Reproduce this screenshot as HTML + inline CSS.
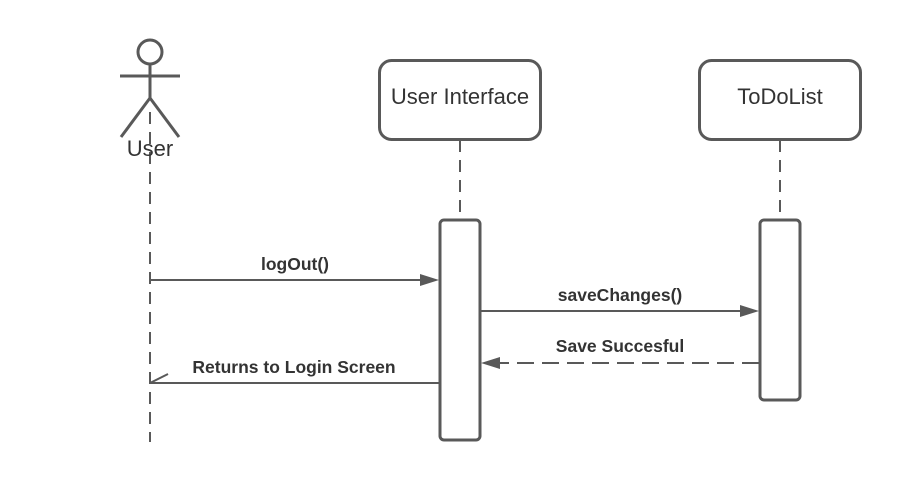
<!DOCTYPE html>
<html><head><style>html,body{margin:0;padding:0;background:#fff}</style></head><body>
<svg width="900" height="480" xmlns="http://www.w3.org/2000/svg" font-family="Liberation Sans, sans-serif">
<rect width="900" height="480" fill="#fff"/>
<g stroke="#595959" stroke-width="3" fill="none">
<circle cx="150" cy="52" r="12"/>
<line x1="120" y1="76" x2="180" y2="76"/>
<line x1="150" y1="64" x2="150" y2="98"/>
<line x1="150" y1="98" x2="121" y2="137"/>
<line x1="150" y1="98" x2="179" y2="137"/>
<rect x="379.5" y="60.5" width="161" height="79" rx="12" fill="#fff"/>
<rect x="699.5" y="60.5" width="161" height="79" rx="12" fill="#fff"/>
</g>
<g stroke="#595959" stroke-width="2" stroke-dasharray="12,8" fill="none">
<line x1="150" y1="112" x2="150" y2="442"/>
<line x1="460" y1="140" x2="460" y2="220"/>
<line x1="780" y1="140" x2="780" y2="220"/>
</g>
<g stroke="#595959" stroke-width="3" fill="#fff">
<rect x="440" y="220" width="40" height="220" rx="4"/>
<rect x="760" y="220" width="40" height="180" rx="4"/>
</g>
<g stroke="#595959" stroke-width="2" fill="none">
<line x1="150" y1="280" x2="425" y2="280"/>
<line x1="481" y1="311" x2="745" y2="311"/>
<line x1="759" y1="363" x2="496" y2="363" stroke-dasharray="17,8"/>
<line x1="439" y1="383" x2="150" y2="383"/>
<line x1="150" y1="383" x2="168" y2="374"/>
</g>
<g fill="#595959">
<polygon points="439,280 420,274 420,286"/>
<polygon points="759,311 740,305 740,317"/>
<polygon points="481,363 500,357 500,369"/>
</g>
<g fill="#333" font-size="22" text-anchor="middle">
<text x="150" y="156">User</text>
<text x="460" y="104">User Interface</text>
<text x="780" y="104">ToDoList</text>
</g>
<g fill="#333" font-size="17.5" font-weight="bold" text-anchor="middle">
<text x="295" y="270">logOut()</text>
<text x="620" y="301">saveChanges()</text>
<text x="620" y="352">Save Succesful</text>
<text x="294" y="373">Returns to Login Screen</text>
</g>
</svg>
</body></html>
